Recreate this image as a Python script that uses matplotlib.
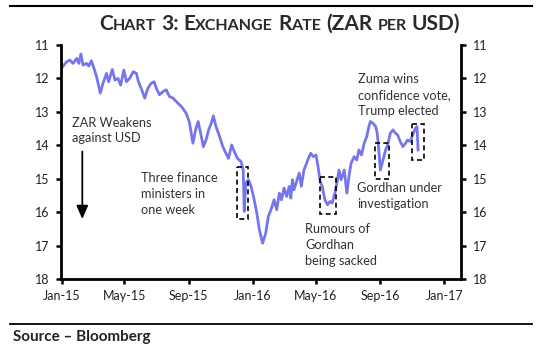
import matplotlib
matplotlib.use("Agg")
import matplotlib.pyplot as plt
import matplotlib.dates as mdates
from matplotlib.patches import Rectangle
import pandas as pd

plt.rcParams['font.family'] = ['Lato', 'DejaVu Sans']

# ---------------- data ----------------
dates = [
    "2015-01-03", "2015-01-11", "2015-01-17", "2015-01-23", "2015-01-30", "2015-02-03",
    "2015-02-07", "2015-02-11", "2015-02-18", "2015-02-22", "2015-02-27", "2015-03-04",
    "2015-03-09", "2015-03-16", "2015-03-21", "2015-03-28", "2015-04-01", "2015-04-08",
    "2015-04-13", "2015-04-19", "2015-04-24", "2015-04-30", "2015-05-05", "2015-05-11",
    "2015-05-18", "2015-05-24", "2015-05-28", "2015-06-02", "2015-06-09", "2015-06-15",
    "2015-06-21", "2015-06-27", "2015-07-01", "2015-07-07", "2015-07-14", "2015-07-20",
    "2015-07-26", "2015-08-02", "2015-08-08", "2015-08-18", "2015-08-27", "2015-09-02",
    "2015-09-09", "2015-09-14", "2015-09-19", "2015-09-25", "2015-09-29", "2015-10-04",
    "2015-10-09", "2015-10-14", "2015-10-18", "2015-10-23", "2015-10-30", "2015-11-05",
    "2015-11-11", "2015-11-16", "2015-11-22", "2015-11-27", "2015-12-03", "2015-12-10",
    "2015-12-14", "2015-12-16", "2015-12-19", "2015-12-24", "2015-12-29", "2016-01-04",
    "2016-01-09", "2016-01-14", "2016-01-20", "2016-01-26", "2016-01-31", "2016-02-05",
    "2016-02-11", "2016-02-16", "2016-02-21", "2016-02-25", "2016-03-01", "2016-03-06",
    "2016-03-11", "2016-03-14", "2016-03-17", "2016-03-20", "2016-03-25", "2016-03-30",
    "2016-04-03", "2016-04-08", "2016-04-13", "2016-04-18", "2016-04-21", "2016-04-26",
    "2016-05-01", "2016-05-04", "2016-05-09", "2016-05-13", "2016-05-18", "2016-05-23",
    "2016-05-28", "2016-06-01", "2016-06-06", "2016-06-10", "2016-06-14", "2016-06-18",
    "2016-06-24", "2016-06-29", "2016-07-03", "2016-07-07", "2016-07-13", "2016-07-18",
    "2016-07-22", "2016-07-27", "2016-08-01", "2016-08-06", "2016-08-10", "2016-08-13",
    "2016-08-18", "2016-08-23", "2016-08-26", "2016-08-29", "2016-09-01", "2016-09-06",
    "2016-09-11", "2016-09-15", "2016-09-20", "2016-09-25", "2016-09-30", "2016-10-04",
    "2016-10-09", "2016-10-14", "2016-10-19", "2016-10-23", "2016-10-28", "2016-11-03",
    "2016-11-07", "2016-11-10", "2016-11-12",
]
zar_per_usd = [
    11.65, 11.50, 11.45, 11.55, 11.40, 11.55, 11.27, 11.60, 11.55, 11.63, 11.47, 11.70,
    11.95, 12.44, 12.15, 11.85, 12.10, 11.73, 12.05, 12.00, 12.20, 11.75, 12.10, 12.00,
    11.80, 11.85, 12.10, 12.29, 12.59, 12.29, 12.15, 12.10, 12.29, 12.49, 12.39, 12.34,
    12.54, 12.59, 12.69, 12.84, 13.04, 13.29, 13.94, 13.54, 13.29, 13.74, 14.04, 13.84,
    13.54, 13.34, 13.12, 13.44, 13.74, 14.04, 14.24, 14.39, 13.99, 14.19, 14.39, 14.49,
    14.74, 15.98, 15.13, 15.03, 15.23, 15.63, 16.03, 16.53, 16.93, 16.63, 16.13, 15.93,
    15.63, 15.93, 15.43, 15.63, 15.28, 15.53, 15.23, 15.58, 15.03, 15.33, 15.08, 14.83,
    15.23, 14.74, 14.54, 14.34, 14.24, 14.34, 14.29, 14.54, 15.08, 15.23, 15.63, 15.78,
    15.68, 15.73, 15.43, 15.13, 14.74, 15.03, 14.74, 15.43, 14.93, 14.54, 14.34, 14.44,
    14.14, 14.29, 13.94, 13.74, 13.44, 13.29, 13.34, 13.44, 13.64, 14.14, 14.74, 14.44,
    14.14, 13.99, 13.64, 13.54, 13.64, 13.69, 13.89, 14.04, 13.94, 13.84, 13.89, 13.64,
    13.49, 13.44, 14.14,
]

# event boxes: (start, end, low value, high value)
box_start = ["2015-12-02", "2016-05-08", "2016-08-21", "2016-11-01"]
box_end = ["2015-12-23", "2016-06-08", "2016-09-17", "2016-11-24"]
box_low = [14.66, 14.95, 13.94, 13.36]
box_high = [16.21, 16.05, 15.00, 14.44]

tick_dates = ["2015-01-01", "2015-05-01", "2015-09-01", "2016-01-01",
              "2016-05-01", "2016-09-01", "2017-01-01"]
tick_labels = ["Jan-15", "May-15", "Sep-15", "Jan-16", "May-16", "Sep-16", "Jan-17"]
y_ticks = [11, 12, 13, 14, 15, 16, 17, 18]

title_pieces = [[("C", "big"), ("HART", "small")], [("3:", "big")],
                [("E", "big"), ("XCHANGE", "small")], [("R", "big"), ("ATE", "small")],
                [("(ZAR", "big")], [("PER", "small")], [("USD)", "big")]]

annotations = ["ZAR Weakens\nagainst USD", "Three finance\nministers in\none week",
               "Rumours of\nGordhan\nbeing sacked", "Gordhan under\ninvestigation",
               "Zuma wins\nconfidence vote,\nTrump elected"]

# ---------------- figure ----------------
W, H = 539, 356
fig = plt.figure(figsize=(W / 100, H / 100), dpi=100)
fig.patch.set_facecolor("white")

def fx(px):
    return px / W

def fy(py):
    return 1 - py / H

ax = fig.add_axes([fx(61), fy(279), fx(461) - fx(61), fy(45) - fy(279)])
x = pd.to_datetime(dates)
ax.plot(x, zar_per_usd, color="#7676ec", lw=2.0, solid_joinstyle="round")

for s, e, lo, hi in zip(box_start, box_end, box_low, box_high):
    s0 = mdates.date2num(pd.Timestamp(s))
    e0 = mdates.date2num(pd.Timestamp(e))
    ax.add_patch(Rectangle((s0, lo), e0 - s0, hi - lo, fill=False, ec="black",
                           lw=1.2, ls=(0, (3, 2)), zorder=3))

ax.set_ylim(18, 11)
ax.set_xlim(pd.Timestamp("2014-12-31"), pd.Timestamp("2017-02-02"))
ax.set_yticks(y_ticks)
ax.set_xticks(pd.to_datetime(tick_dates))
ax.set_xticklabels(tick_labels)

for side in ["left", "right", "bottom"]:
    ax.spines[side].set_linewidth(2.0)
    ax.spines[side].set_color("black")
ax.spines["top"].set_visible(False)

ax.tick_params(axis="y", which="both", left=True, right=True, labelleft=True,
               labelright=True, direction="out", length=3.5, width=1.8,
               labelsize=9, labelcolor="#222222", pad=5)
ax.tick_params(axis="x", direction="out", length=3.5, width=1.8,
               labelsize=9, labelcolor="#222222", pad=4.5)

# annotations (figure pixel positions)
txt_kw = dict(fontsize=9.2, color="#333333", linespacing=1.38, va="center", ha="left")
fig.text(fx(72), fy(130.5), annotations[0], **txt_kw)
fig.text(fx(141), fy(194.3), annotations[1], **txt_kw)
fig.text(fx(305), fy(245), annotations[2], **txt_kw)
fig.text(fx(357), fy(196), annotations[3], **txt_kw)
fig.text(fx(358), fy(95), annotations[4], **txt_kw)

# arrow
ax.annotate("", xy=(fx(82.3), fy(219)), xytext=(fx(82.3), fy(151.5)),
            xycoords="figure fraction", textcoords="figure fraction",
            arrowprops=dict(arrowstyle="-|>,head_length=0.8,head_width=0.35",
                            color="black", lw=1.3, shrinkA=0, shrinkB=0))

# horizontal rules
fig.add_artist(plt.Line2D([fx(10), fx(532)], [fy(6), fy(6)], color="black", lw=1.5))
fig.add_artist(plt.Line2D([fx(10), fx(532)], [fy(323.5), fy(323.5)], color="black", lw=1.3))

fig.text(fx(13), fy(337), "Source \u2013 Bloomberg", fontsize=11, fontweight="bold",
         color="#222222", va="center", ha="left")

# title in small caps
renderer = fig.canvas.get_renderer()
big, small = 15.0, 11.5
gap_px = 5.0
items = []
cur = 0.0
for wi, word in enumerate(title_pieces):
    if wi > 0:
        cur += gap_px
    for txt, kind in word:
        t = fig.text(0, fy(30), txt, fontsize=big if kind == "big" else small,
                     fontweight="bold", color="#2a2a2a", va="baseline", ha="left")
        w = t.get_window_extent(renderer).width
        items.append((t, cur))
        cur += w
left = 279.5 - cur / 2
for t, off in items:
    t.set_x(fx(left + off))

fig.savefig("out.png", dpi=100)
